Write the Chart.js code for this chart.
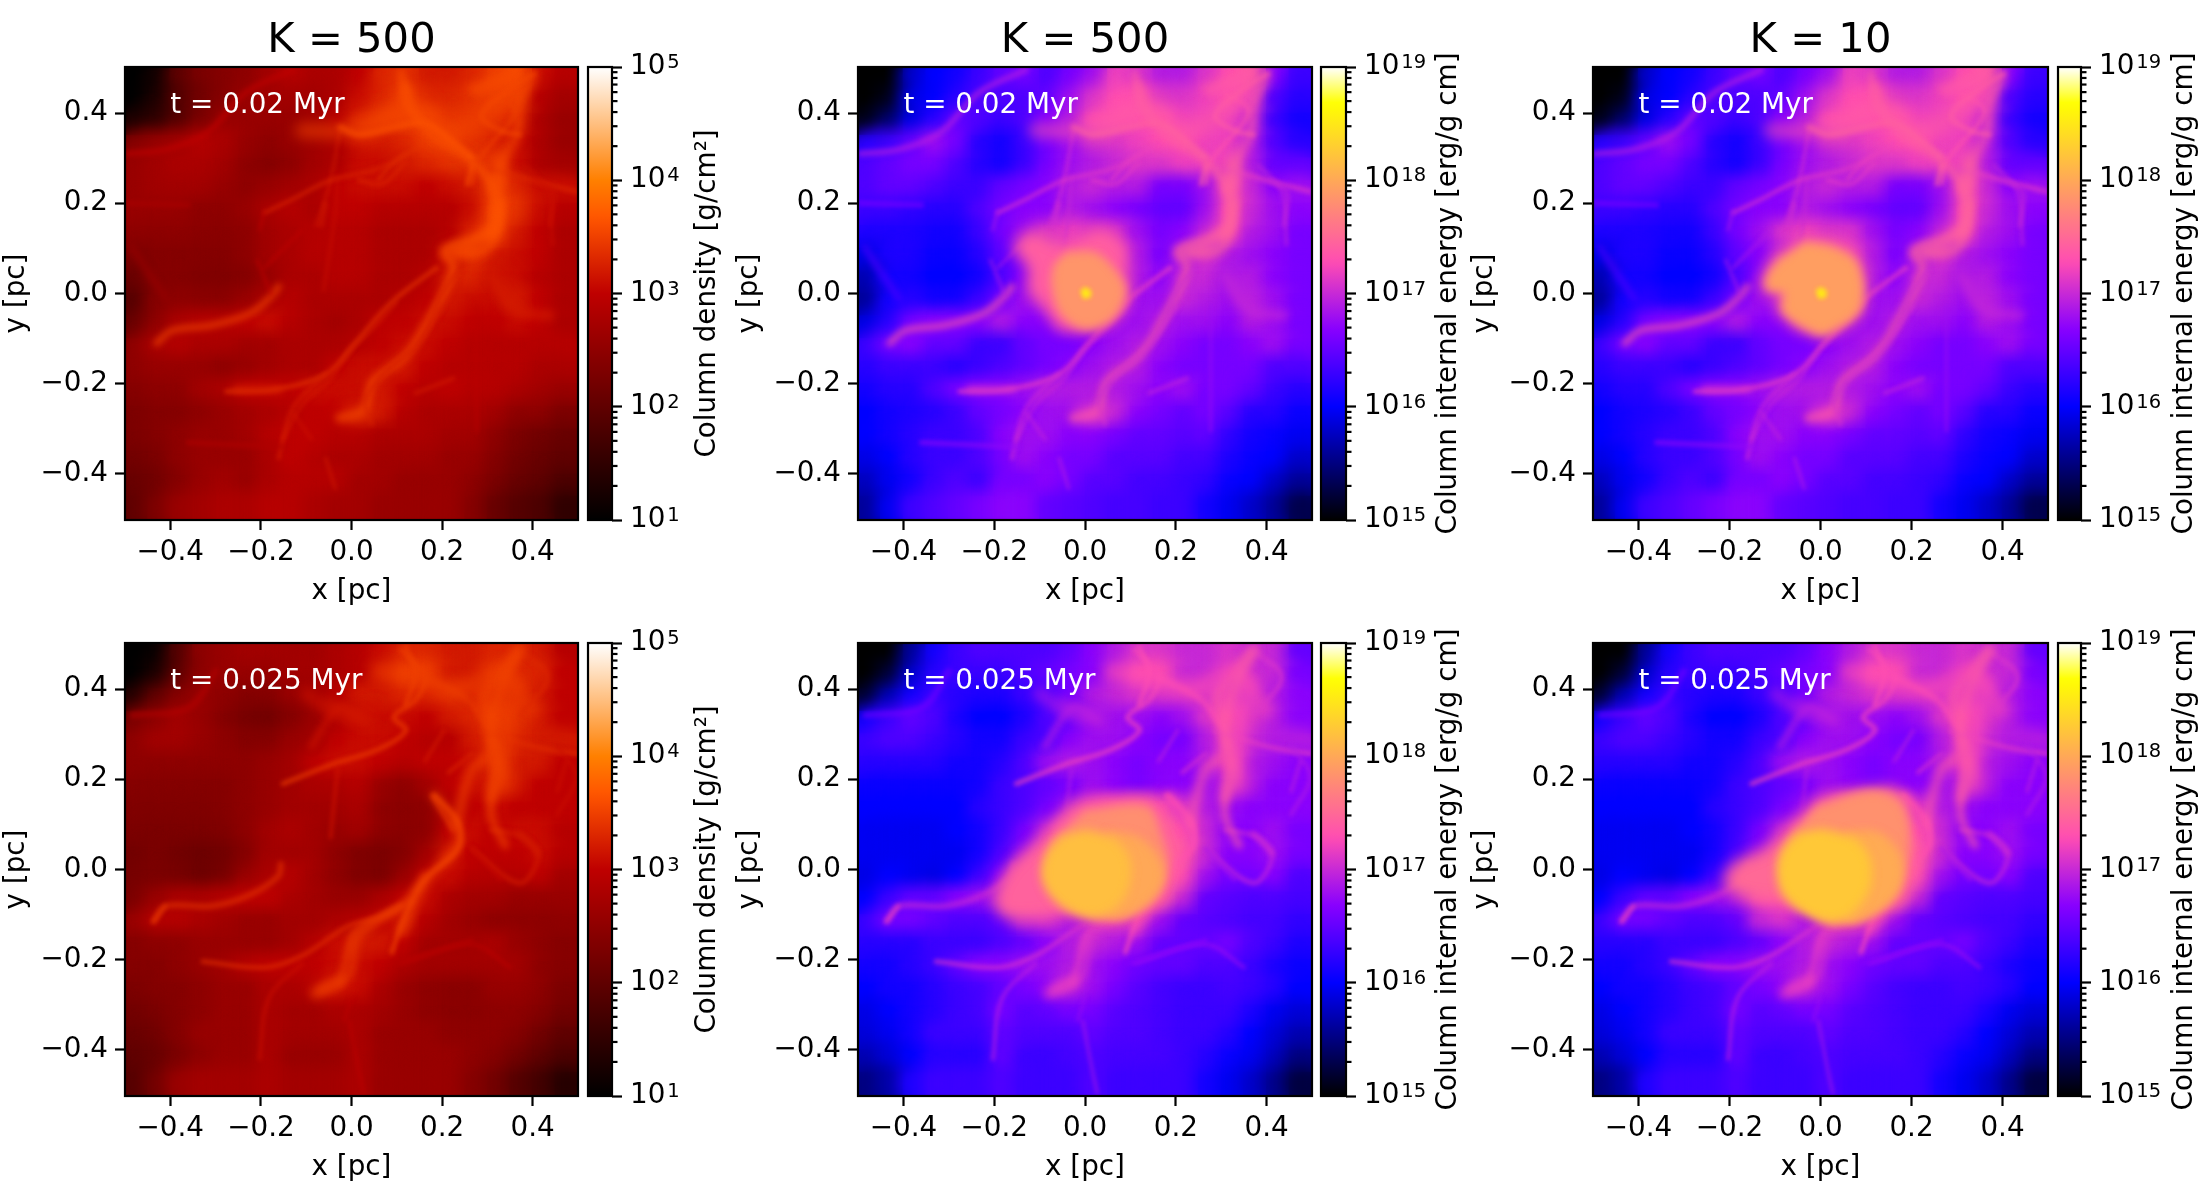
<!DOCTYPE html>
<html><head><meta charset="utf-8">
<script src="https://cdn.jsdelivr.net/npm/chart.js@4"></script>
<style>html,body{margin:0;padding:0;background:#fff;width:2200px;height:1200px;overflow:hidden}canvas{position:absolute;display:block}</style>
</head><body>
<script>
// ---------- axes ----------
const gridX=[-.475,-.425,-.375,-.325,-.275,-.225,-.175,-.125,-.075,-.025,.025,.075,.125,.175,.225,.275,.325,.375,.425,.475];
const gridY=[.475,.425,.375,.325,.275,.225,.175,.125,.075,.025,-.025,-.075,-.125,-.175,-.225,-.275,-.325,-.375,-.425,-.475];
const posTicks=[-.4,-.2,0,.2,.4];
const rhoDecades=[1e1,1e2,1e3,1e4,1e5];
const eDecades=[1e15,1e16,1e17,1e18,1e19];
const minorFactors=[2,3,4,5,6,7,8,9];
const columnTitles=['K = 500','K = 500','K = 10'];
const timeLabels=['t = 0.02 Myr','t = 0.025 Myr'];
const rhoLabel='Column density [g/cm²]';
const eLabel='Column internal energy [erg/g cm]';
// ---------- coarse log10 fields ----------
const rho02=[
[1.0,1.2,2.0,2.3,2.4,2.5,2.7,2.9,2.8,2.8,3.0,3.3,3.4,3.2,3.2,3.3,3.5,3.6,3.1,2.9],
[1.0,1.3,1.9,2.2,2.4,2.6,2.7,2.7,2.7,2.8,3.1,3.3,3.5,3.3,3.3,3.4,3.5,3.5,2.9,2.7],
[1.3,1.5,1.9,2.3,2.6,2.6,2.6,2.6,2.7,2.9,3.3,3.4,3.5,3.5,3.4,3.4,3.4,3.3,2.8,2.6],
[2.4,2.6,2.7,2.9,2.8,2.6,2.5,2.6,2.7,2.8,3.1,3.2,3.3,3.5,3.5,3.4,3.3,3.1,2.8,2.6],
[2.6,2.7,2.8,2.8,2.7,2.5,2.4,2.5,2.7,2.8,3.1,3.1,3.2,3.3,3.4,3.4,3.4,3.1,2.8,2.7],
[2.6,2.7,2.7,2.7,2.6,2.5,2.6,2.7,2.8,3.0,3.1,3.1,3.1,3.0,3.1,3.2,3.5,3.3,3.1,3.1],
[2.6,2.6,2.6,2.5,2.5,2.6,2.8,2.9,2.8,3.0,3.0,2.9,2.9,2.9,2.9,3.1,3.6,3.4,3.1,2.9],
[2.5,2.5,2.5,2.45,2.45,2.5,2.7,2.8,2.9,2.9,2.9,2.8,2.8,2.8,2.9,3.3,3.6,3.2,3.0,2.8],
[2.3,2.4,2.4,2.4,2.4,2.5,2.7,2.8,2.9,2.9,2.9,2.8,2.8,2.8,3.1,3.4,3.2,3.1,3.0,2.8],
[2.1,2.4,2.4,2.35,2.35,2.4,2.6,2.8,2.8,2.9,2.9,2.8,2.8,2.9,3.2,3.3,3.1,3.1,2.9,2.8],
[1.9,2.4,2.5,2.45,2.45,2.6,2.8,2.9,2.8,2.8,2.8,2.8,2.9,3.0,3.2,3.1,3.1,3.2,3.0,2.8],
[2.1,2.5,2.8,2.9,2.9,3.0,3.1,2.9,2.8,2.7,2.8,3.0,3.0,3.1,3.1,3.0,3.0,3.1,3.0,2.8],
[2.5,2.8,2.9,2.8,2.8,2.7,2.7,2.8,2.8,2.8,2.9,3.0,3.1,3.1,3.0,2.9,2.9,2.9,2.9,2.9],
[2.5,2.6,2.6,2.6,2.5,2.6,2.7,2.8,2.8,3.0,3.1,3.1,3.2,3.0,2.9,2.9,2.9,2.9,2.8,2.8],
[2.4,2.5,2.5,2.7,2.8,3.0,3.0,3.0,3.1,3.1,3.1,3.2,3.0,2.9,3.0,2.9,2.9,2.8,2.7,2.6],
[2.3,2.4,2.4,2.5,2.6,2.7,2.8,2.9,3.0,3.0,3.2,3.2,2.9,2.8,2.8,2.8,2.7,2.5,2.5,2.3],
[2.3,2.4,2.5,2.6,2.6,2.7,2.9,3.0,3.0,2.9,2.9,2.8,2.8,2.8,2.7,2.7,2.5,2.3,2.2,2.1],
[2.2,2.3,2.5,2.6,2.6,2.6,2.8,3.0,2.9,2.8,2.8,2.7,2.7,2.7,2.6,2.6,2.4,2.2,2.1,2.0],
[2.1,2.2,2.4,2.6,2.7,2.6,2.8,2.9,2.9,2.9,2.7,2.7,2.6,2.6,2.6,2.5,2.3,2.1,2.0,1.8],
[2.0,2.3,2.6,2.7,2.8,2.8,2.9,2.9,2.8,2.7,2.7,2.6,2.6,2.6,2.6,2.4,2.1,1.9,1.8,1.5]];
const rho025=[
[1.0,1.1,1.9,2.5,2.6,2.7,2.7,2.7,2.7,2.8,2.9,3.1,3.3,3.3,3.2,3.2,3.3,3.3,3.2,2.9],
[1.0,1.3,2.0,2.5,2.6,2.6,2.6,2.7,2.7,2.8,2.9,3.2,3.5,3.5,3.2,3.2,3.4,3.3,3.3,3.0],
[1.4,2.0,2.4,2.6,2.5,2.4,2.4,2.6,2.7,2.9,3.2,3.2,3.3,3.3,3.4,3.3,3.4,3.3,3.2,3.0],
[2.3,2.5,2.7,2.6,2.4,2.25,2.2,2.4,2.6,2.8,3.1,3.1,3.1,3.0,3.2,3.3,3.5,3.4,3.2,3.0],
[2.5,2.7,2.7,2.6,2.5,2.4,2.4,2.6,2.7,3.0,3.1,3.1,3.0,2.9,2.9,3.2,3.4,3.3,3.2,3.2],
[2.5,2.5,2.5,2.5,2.5,2.5,2.6,2.7,3.0,3.1,3.1,3.0,2.9,3.0,3.0,3.1,3.4,3.2,3.2,3.0],
[2.4,2.4,2.4,2.4,2.4,2.5,2.6,2.7,2.8,2.8,2.9,2.6,2.5,2.7,3.0,3.1,3.3,3.2,3.0,3.0],
[2.35,2.35,2.35,2.35,2.4,2.5,2.6,2.7,2.7,2.7,2.8,2.5,2.45,2.5,2.9,3.0,3.1,3.0,3.0,3.0],
[2.3,2.3,2.3,2.3,2.35,2.5,2.7,2.8,2.7,2.6,2.7,2.5,2.45,2.5,3.0,3.1,3.0,3.1,3.1,2.9],
[2.2,2.3,2.2,2.15,2.2,2.4,2.7,2.7,2.7,2.5,2.35,2.3,2.4,2.7,3.2,3.0,3.0,3.0,3.1,2.9],
[2.25,2.3,2.25,2.15,2.25,2.6,2.8,2.9,2.7,2.5,2.35,2.3,2.6,3.0,3.1,2.9,2.9,2.9,3.0,2.7],
[2.3,2.6,2.8,2.8,2.9,3.0,3.0,2.8,2.7,2.6,2.6,2.8,3.0,3.1,2.8,2.7,2.7,2.6,2.6,2.6],
[2.6,2.9,2.9,2.8,2.7,2.6,2.6,2.7,2.7,2.8,2.9,3.0,3.2,2.9,2.7,2.6,2.5,2.5,2.5,2.5],
[2.4,2.5,2.5,2.6,2.6,2.6,2.6,2.7,2.9,3.1,3.2,3.2,3.0,2.7,2.7,2.7,2.8,2.6,2.5,2.4],
[2.4,2.4,2.5,2.6,2.7,2.9,3.0,3.0,3.0,3.1,3.1,3.0,2.8,2.7,2.7,2.7,2.7,2.7,2.5,2.4],
[2.3,2.4,2.4,2.5,2.6,2.6,2.8,2.8,2.9,3.1,3.1,2.8,2.6,2.5,2.45,2.45,2.6,2.6,2.5,2.3],
[2.2,2.3,2.4,2.5,2.6,2.6,2.8,2.7,2.7,2.8,2.8,2.7,2.6,2.5,2.45,2.45,2.5,2.5,2.4,2.2],
[2.1,2.2,2.4,2.6,2.6,2.6,2.8,2.7,2.7,2.7,2.8,2.6,2.6,2.6,2.5,2.5,2.5,2.4,2.2,2.0],
[2.0,2.1,2.3,2.5,2.6,2.6,2.8,2.6,2.6,2.6,2.8,2.6,2.6,2.6,2.6,2.5,2.4,2.2,2.0,1.8],
[1.9,2.2,2.6,2.7,2.7,2.7,2.8,2.7,2.7,2.7,2.8,2.6,2.6,2.6,2.6,2.4,2.2,1.9,1.7,1.4]];
const e02=[
[15.0,15.0,15.8,16.0,16.1,16.3,16.5,16.6,16.4,16.6,16.8,17.2,17.1,16.9,16.9,17.1,17.3,17.4,16.7,16.3],
[15.0,15.1,15.9,16.0,16.2,16.4,16.4,16.4,16.5,16.8,17.1,17.3,17.3,17.1,17.1,17.2,17.3,17.2,16.4,16.2],
[15.1,15.4,15.9,16.2,16.5,16.4,16.3,16.4,16.7,16.9,17.3,17.3,17.3,17.3,17.2,17.2,17.2,17.0,16.3,16.1],
[16.2,16.3,16.5,16.8,16.6,16.2,16.1,16.3,16.6,16.8,17.0,17.1,17.2,17.3,17.3,17.2,17.2,16.9,16.4,16.2],
[16.4,16.5,16.6,16.6,16.4,16.2,16.1,16.3,16.6,16.8,16.9,17.0,17.1,17.1,17.2,17.2,17.2,16.9,16.5,16.5],
[16.4,16.5,16.5,16.4,16.3,16.3,16.5,16.6,16.7,16.9,17.0,16.9,16.9,16.6,16.6,16.8,17.3,17.0,16.7,16.8],
[16.3,16.3,16.25,16.2,16.2,16.4,16.6,16.7,16.7,16.9,16.8,16.7,16.6,16.5,16.5,16.8,17.3,17.0,16.8,16.7],
[16.15,16.15,16.15,16.1,16.1,16.3,16.6,16.8,17.1,17.2,17.1,17.1,16.8,16.6,16.7,17.0,17.3,16.9,16.8,16.6],
[15.9,16.15,16.15,16.05,16.05,16.2,16.5,16.7,17.0,17.2,17.2,17.2,16.9,16.6,16.9,17.1,16.9,16.8,16.7,16.6],
[15.7,16.1,16.1,16.0,16.0,16.1,16.4,16.7,16.9,17.1,17.1,17.0,16.9,16.7,17.0,17.0,16.8,16.9,16.7,16.6],
[15.6,16.1,16.2,16.1,16.1,16.3,16.6,16.8,16.9,17.1,17.1,17.0,16.8,16.8,17.0,16.9,16.8,16.9,16.8,16.6],
[15.9,16.2,16.6,16.7,16.7,16.7,16.9,16.7,16.7,16.9,16.9,16.8,16.8,16.9,16.8,16.8,16.7,16.9,16.8,16.6],
[16.3,16.6,16.7,16.5,16.5,16.3,16.3,16.5,16.6,16.6,16.7,16.8,16.9,16.8,16.7,16.6,16.6,16.7,16.8,16.6],
[16.2,16.3,16.3,16.3,16.2,16.3,16.4,16.5,16.6,16.7,16.8,16.9,16.9,16.7,16.6,16.6,16.6,16.6,16.4,16.4],
[16.1,16.2,16.2,16.4,16.6,16.7,16.7,16.8,16.9,16.9,16.9,16.9,16.8,16.7,16.8,16.6,16.6,16.5,16.3,16.2],
[16.0,16.1,16.15,16.2,16.3,16.5,16.6,16.7,16.8,16.8,17.0,17.0,16.7,16.6,16.5,16.6,16.45,16.2,16.2,16.05],
[16.0,16.1,16.2,16.3,16.3,16.4,16.7,16.8,16.8,16.7,16.7,16.6,16.5,16.5,16.45,16.5,16.25,16.1,16.05,15.95],
[15.9,16.0,16.2,16.3,16.3,16.4,16.6,16.8,16.7,16.6,16.6,16.45,16.45,16.45,16.35,16.35,16.15,16.05,16.0,15.8],
[15.75,15.95,16.1,16.3,16.4,16.3,16.6,16.6,16.7,16.6,16.45,16.45,16.35,16.35,16.3,16.25,16.05,16.0,15.8,15.6],
[15.6,15.95,16.3,16.4,16.5,16.6,16.7,16.7,16.5,16.45,16.4,16.35,16.35,16.3,16.3,16.1,15.95,15.8,15.6,15.3]];
const e025=[
[15.0,15.0,15.6,16.1,16.3,16.4,16.4,16.4,16.4,16.5,16.7,16.9,17.1,17.1,17.0,17.0,17.1,17.0,17.0,16.5],
[15.0,15.2,15.8,16.2,16.3,16.3,16.3,16.4,16.5,16.6,16.7,17.0,17.3,17.3,17.0,17.0,17.1,17.0,17.0,16.6],
[15.2,15.7,16.1,16.3,16.2,16.15,16.15,16.3,16.4,16.6,16.9,17.0,17.1,17.1,17.1,17.1,17.2,17.0,16.9,16.7],
[16.1,16.3,16.5,16.4,16.15,16.0,16.0,16.15,16.4,16.5,16.8,16.8,16.8,16.7,16.8,17.1,17.3,17.1,16.9,16.7],
[16.3,16.4,16.4,16.3,16.2,16.1,16.1,16.3,16.4,16.7,16.8,16.8,16.7,16.6,16.6,16.9,17.2,17.0,16.9,16.9],
[16.2,16.2,16.2,16.2,16.1,16.1,16.2,16.4,16.8,16.9,16.8,16.7,16.6,16.7,16.7,16.9,17.2,16.9,16.8,16.7],
[16.05,16.05,16.05,16.05,16.05,16.1,16.3,16.4,16.5,16.6,16.8,16.7,16.6,16.7,16.7,16.8,17.0,16.9,16.7,16.7],
[16.0,16.0,16.0,16.0,16.0,16.2,16.3,16.4,16.6,16.8,17.2,17.3,17.3,17.3,17.1,16.9,16.8,16.7,16.7,16.7],
[15.95,15.95,15.95,15.95,16.0,16.1,16.3,16.6,17.0,17.3,17.4,17.5,17.5,17.5,17.3,17.0,16.7,16.7,16.8,16.6],
[15.95,15.95,15.95,15.95,15.95,16.1,16.4,16.8,17.2,17.4,17.5,17.5,17.5,17.5,17.4,17.0,16.7,16.7,16.8,16.6],
[15.9,16.0,15.95,15.9,16.0,16.3,16.7,17.2,17.3,17.4,17.5,17.5,17.5,17.5,17.3,16.8,16.6,16.6,16.7,16.4],
[16.0,16.3,16.5,16.5,16.7,16.8,16.9,17.3,17.3,17.3,17.4,17.5,17.5,17.4,17.0,16.5,16.45,16.4,16.4,16.35],
[16.3,16.6,16.6,16.5,16.4,16.4,16.5,17.0,17.1,16.9,17.0,17.1,17.1,16.8,16.5,16.45,16.4,16.35,16.35,16.25],
[16.2,16.2,16.2,16.3,16.3,16.3,16.4,16.5,16.7,16.9,17.0,16.9,16.8,16.5,16.5,16.5,16.6,16.4,16.3,16.15],
[16.1,16.1,16.2,16.3,16.5,16.7,16.7,16.8,16.8,16.9,16.8,16.7,16.55,16.5,16.5,16.4,16.4,16.3,16.15,16.05],
[16.0,16.1,16.1,16.2,16.3,16.35,16.5,16.6,16.7,16.9,16.8,16.6,16.45,16.35,16.3,16.3,16.35,16.3,16.2,16.0],
[15.9,16.0,16.1,16.2,16.3,16.35,16.6,16.45,16.5,16.6,16.6,16.45,16.4,16.35,16.3,16.3,16.3,16.15,15.95,15.85],
[15.85,15.95,16.1,16.3,16.3,16.3,16.5,16.4,16.4,16.4,16.5,16.4,16.4,16.35,16.3,16.3,16.2,16.0,15.85,15.7],
[15.7,15.85,16.0,16.2,16.2,16.2,16.5,16.3,16.3,16.35,16.4,16.35,16.35,16.35,16.3,16.2,16.05,15.95,15.75,15.5],
[15.5,15.65,16.15,16.3,16.3,16.3,16.4,16.3,16.3,16.3,16.4,16.3,16.3,16.3,16.3,16.1,15.95,15.8,15.55,15.25]];
// ---------- filaments: polylines in pc, with per-filament log10 level ----------
const fil02=[
[[-.43,-.11],[-.396,-.082],[-.307,-.07],[-.224,-.044],[-.177,-.006],[-.161,.015]],
[[-.026,-.276],[.027,-.26],[.047,-.196],[.12,-.137],[.183,-.036],[.225,.057],[.204,.095],[.277,.124],[.319,.15],[.313,.234],[.266,.293],[.193,.344],[.141,.394],[.12,.462]],
[[.319,.15],[.329,.285],[.365,.352],[.37,.42],[.402,.487]],
[[.308,.276],[.4,.251],[.496,.226]],
[[-.276,-.217],[-.172,-.213],[-.057,-.179],[.006,-.112],[.089,-.019],[.188,.057]],
[[-.161,-.365],[-.13,-.255],[-.057,-.179]],
[[-.078,.15],[-.046,.25],[-.026,.361]],
[[-.062,.006],[-.036,.175],[-.03,.26]],
[[-.192,.179],[-.13,.209],[-.046,.251],[.058,.276],[.12,.31]],
[[-.495,.31],[-.411,.319],[-.318,.357],[-.234,.445],[-.13,.496]],
[[.438,.15],[.444,.226],[.4,.251]],
[[.308,.04],[.36,-.036],[.438,-.049]],
[[.141,-.221],[.225,-.188]],
[[-.109,.361],[-.015,.361],[.141,.394],[.214,.335]],
[[.266,.454],[.371,.487]],
[[-.057,-.365],[-.036,-.432]],
[[.02,.35],[.14,.42],[.2,.36],[.3,.4],[.35,.47]],
[[-.151,-.323],[-.109,-.247],[-.046,-.188],[-.005,-.129],[.047,-.078],[.1,-.019]],
[[.267,.243],[.277,.293],[.36,.403],[.308,.445]],
[[.058,.251],[.089,.285],[.162,.335]],
[[.381,.285],[.433,.226],[.444,.108]],
[[.277,-.027],[.277,-.196],[.277,-.306]],
[[-.36,-.33],[-.15,-.34]],
[[-.495,.2],[-.36,.196]],
[[-.484,.1],[-.411,-.01]],
[[-.203,.141],[-.192,.183]],
[[-.208,.074],[-.177,-.002]],
[[-.109,.141],[-.192,.057]],
[[.045,-.29],[.03,-.24],[.07,-.18],[.15,-.11],[.2,.0],[.25,.07]],
[[.23,.09],[.3,.1],[.33,.2]],
[[-.026,.369],[.016,.352],[.1,.369],[.162,.378],[.225,.335],[.266,.302]],
[[.11,.487],[.12,.42],[.152,.386]],
[[.402,.487],[.35,.454],[.287,.394],[.329,.361],[.37,.352]],
[[.277,.445],[.36,.487]],
[[.266,.285],[.256,.243]],
[[.016,.251],[.068,.243],[.12,.293]],
[[-.057,.2],[-.067,.15]],
[[.308,.141],[.266,.108],[.214,.09]],
[[.319,.226],[.329,.293]],
[[.319,.04],[.37,-.027]],
[[.204,-.027],[.141,-.112],[.058,-.188]],
[[-.13,-.264],[-.088,-.323]],
[[-.015,-.272],[.037,-.272]],
[[-.255,-.213],[-.16,-.213]]];
const fil02Width=[7,8,9,5,5,4,3,3,4,6,4,9,4,14,10,3,18,3,4,3,3,3,5,5,7,3,3,3,4,10,6,7,5,8,5,4,4,12,14,16,3,3,14,8];
const fil02Rho=[3.55,3.7,3.6,3.3,3.4,3.25,3.2,3.1,3.3,3.0,3.15,3.25,3.2,3.55,3.6,3.2,3.55,3.25,3.5,3.4,3.1,2.95,2.85,2.8,2.6,3.0,3.0,3.0,3.2,3.65,3.65,3.6,3.55,3.55,3.6,3.3,3.2,3.6,3.6,3.2,3.25,3.15,3.4,3.3];
const fil02E=[17.4,17.45,17.4,17.15,17.2,17.05,17.1,17.0,17.15,16.95,17.0,17.0,17.0,17.35,17.4,16.95,17.4,17.05,17.35,17.2,17.0,16.8,16.75,16.65,16.4,16.9,16.9,16.9,17.0,17.5,17.45,17.4,17.4,17.35,17.45,17.15,17.1,17.45,17.5,17.0,17.1,17.0,17.3,17.15];
const fil025=[
[[-.437,-.115],[-.411,-.081],[-.307,-.081],[-.224,-.056],[-.161,-.014],[-.156,.012]],
[[.11,-.14],[.162,-.03],[.235,.054],[.23,.096],[.183,.164]],
[[.23,.096],[.266,.223],[.308,.257],[.308,.308],[.29,.38],[.319,.426],[.371,.486]],
[[-.151,.19],[-.046,.232],[.058,.266],[.12,.308],[.094,.338],[.141,.376],[.162,.426],[.11,.486]],
[[.287,.308],[.412,.27],[.496,.257]],
[[.162,.426],[.256,.376],[.308,.308]],
[[-.328,-.204],[-.192,-.217],[-.109,-.191],[-.005,-.124],[.058,-.107],[.11,-.08]],
[[-.067,-.267],[-.005,-.234],[.016,-.149],[.11,-.081],[.162,-.014]],
[[-.203,-.42],[-.182,-.284],[-.109,-.208]],
[[-.046,.071],[-.036,.173],[-.03,.223]],
[[-.005,-.335],[.016,-.445],[.027,-.496]],
[[.308,.088],[.381,.071],[.412,.029],[.371,-.03],[.266,.046]],
[[.454,.274],[.496,.206],[.454,.122]],
[[.11,-.208],[.266,-.166],[.35,-.217]],
[[-.484,.342],[-.359,.359],[-.3,.44]],
[[.06,.44],[.16,.42],[.24,.4],[.33,.44],[.4,.35]],
[[.319,.24],[.308,.122],[.339,.054]],
[[.178,.164],[.225,.088]],
[[.371,.486],[.433,.426],[.371,.342]],
[[-.088,.274],[-.026,.359],[.027,.333]],
[[.204,.308],[.162,.24]],
[[-.08,-.275],[-.03,-.25]],
[[.266,.046],[.329,-.022]],
[[-.016,-.335],[0,-.284]],
[[.1,-.208],[.266,-.157]],
[[.36,.42],[.34,.3],[.34,.18]],
[[-.1,.39],[-.02,.34],[.05,.36]],
[[.12,.494],[.141,.435],[.12,.367]],
[[.371,.486],[.329,.401],[.308,.316],[.329,.215],[.308,.156]],
[[.183,.164],[.235,.105],[.235,.046],[.162,-.022],[.12,-.098],[.089,-.183]],
[[.131,-.073],[.058,-.107],[.006,-.14],[-.015,-.208],[-.026,-.25]],
[[-.067,-.267],[-.026,-.25]],
[[.214,.215],[.266,.257]],
[[.371,.08],[.412,.037]],
[[-.046,.367],[.037,.325]],
[[.454,.173],[.475,.24]],
[[-.437,-.115],[-.411,-.081]]];
const fil025Width=[6,9,10,5,5,6,5,8,4,4,3,5,4,4,6,14,8,4,5,7,3,10,4,3,5,14,12,5,10,5,7,16,4,6,12,3,4];
const fil025Rho=[3.4,3.6,3.55,3.5,3.35,3.45,3.35,3.5,3.1,3.15,3.0,3.2,3.1,2.95,2.9,3.5,3.55,3.4,3.3,3.15,3.25,3.55,3.05,3.0,2.9,3.5,3.15,3.5,3.55,3.55,3.5,3.35,3.3,3.2,3.2,3.15,3.45];
const fil025E=[17.05,17.3,17.4,17.25,17.15,17.3,17.1,17.1,16.95,16.9,16.9,17.0,16.9,16.8,16.6,17.3,17.4,17.2,17.1,16.95,17.0,17.2,16.85,16.8,16.7,17.3,16.9,17.3,17.4,17.3,17.2,17.15,17.1,17.05,16.95,17.0,17.25];
// ---------- heated bubbles: closed outlines in pc with log10 level ----------
const bubble500a=[[[-.11,.141],[-.042,.108],[.031,.141],[.083,.108],[.093,.041],[.098,-.01],[.052,-.07],[-.053,-.078],[-.094,-.028],[-.125,.006],[-.125,.057],[-.157,.099],[-.136,.133]],
[[-.042,.091],[.02,.091],[.062,.057],[.088,.006],[.062,-.053],[0,-.078],[-.053,-.044],[-.073,.023],[-.068,.065]],
[[-.01,.005],[0,.012],[.012,.005],[.01,-.008],[-.005,-.01]]];
const bubble500aLevels=[17.42,17.85,18.5];
const bubble10a=[[[-.038,.122],[.034,.112],[.088,.07],[.093,-.036],[.027,-.09],[-.007,-.096],[-.092,-.044],[-.092,-.002],[-.128,.006],[-.128,.04],[-.103,.078],[-.076,.095]],
[[-.034,.112],[.03,.1],[.08,.064],[.086,-.032],[.023,-.082],[-.007,-.087],[-.08,-.04],[-.08,.002],[-.115,.01],[-.115,.036],[-.092,.07],[-.068,.088]],
[[-.01,.005],[0,.012],[.012,.005],[.01,-.008],[-.005,-.01]]];
const bubble10aLevels=[17.5,17.92,18.5];
const bubble500b=[[[-.032,.147],[.072,.156],[.145,.156],[.182,.088],[.202,.02],[.166,-.073],[.072,-.115],[-.032,-.098],[-.167,-.107],[-.198,-.073],[-.167,.003],[-.094,.071]],
[[0,.13],[.135,.139],[.166,.08],[.182,.003],[.145,-.073],[.052,-.111],[-.032,-.073],[-.084,-.013],[-.073,.063]],
[[.05,.085],[.12,.07],[.165,.02],[.17,-.03],[.13,-.08],[.06,-.105],[.03,-.06],[.05,.02]],
[[0,.088],[.06,.07],[.095,.03],[.1,-.02],[.08,-.07],[.03,-.105],[-.03,-.095],[-.075,-.06],[-.095,-.015],[-.085,.035],[-.05,.075]]];
const bubble500bLevels=[17.45,17.8,18.0,18.18];
const bubble10b=[[[-.017,.147],[.064,.173],[.176,.173],[.196,.071],[.206,.003],[.166,-.081],[.034,-.123],[-.038,-.081],[-.18,-.056],[-.21,-.03],[-.19,.012],[-.119,.046],[-.058,.1]],
[[-.007,.139],[.115,.173],[.181,.139],[.191,.02],[.145,-.073],[.034,-.119],[-.048,-.064],[-.088,.003],[-.068,.071]],
[[.06,.085],[.13,.08],[.175,.03],[.175,-.04],[.13,-.09],[.06,-.115],[.04,-.06],[.05,.02]],
[[0,.09],[.07,.07],[.105,.03],[.11,-.03],[.085,-.08],[.035,-.115],[-.03,-.1],[-.08,-.06],[-.095,-.01],[-.085,.04],[-.05,.08]]];
const bubble10bLevels=[17.5,17.82,18.02,18.25];

// ---------- colour maps ----------
const clamp=v=>Math.max(0,Math.min(1,v));
const gistHeat=x=>[1.5*x,2*x-1,4*x-3];
const gnuplot2=x=>[x/.32-.78125,2*x-.84,x<.25?4*x:(x<.92?-2*x+1.84:x/.08-11.5)];
const css=(rgb,a=1)=>`rgba(${rgb.map(c=>Math.round(clamp(c)*255)).join(',')},${a})`;
const rhoColor=(v,a)=>css(gistHeat(clamp((v-1)/4)),a);
const eColor=(v,a)=>css(gnuplot2(clamp((v-15)/4)),a);

Chart.defaults.font.family='"DejaVu Sans"';
Chart.defaults.font.size=27.8;
Chart.defaults.color='#000';
Chart.defaults.animation=false;
Chart.defaults.devicePixelRatio=1;

const softFilter={id:'softFilter',
  beforeDatasetsDraw(chart){const o=chart.getSortedVisibleDatasetMetas();const m=o[o.length-1];chart.ctx.filter=m?`blur(${chart.data.datasets[m.index].soft||0}px)`:'none';},
  afterDatasetDraw(chart,args){const o=chart.getSortedVisibleDatasetMetas();const i=o.indexOf(args.meta);const m=o[i-1];chart.ctx.filter=m?`blur(${chart.data.datasets[m.index].soft||0}px)`:'none';},
  afterDatasetsDraw(chart){chart.ctx.filter='none';}};
const frame={id:'frame',afterDraw(chart){const {left,top,width,height}=chart.chartArea;const c=chart.ctx;c.save();c.lineWidth=2.2;c.strokeStyle='#000';c.strokeRect(left,top,width,height);c.restore();}};
const zeroPad=s=>{s.paddingLeft=s.paddingRight=s.paddingTop=s.paddingBottom=0;};
const fmt=v=>(v<0?'\u2212':'')+Math.abs(v).toFixed(1);
function panel(cfg){
  const cv=document.createElement('canvas');document.body.appendChild(cv);
  const L=125,T=67,B=88,R=5;const W=cfg.right-cfg.left,H=cfg.bottom-cfg.top;
  cv.width=L+W+R;cv.height=T+H+B;cv.style.left=(cfg.left-L)+'px';cv.style.top=(cfg.top-T)+'px';
  const color=cfg.color,ds=[];
  const cells=[],cols=[];
  cfg.grid.forEach((row,j)=>row.forEach((v,i)=>{cells.push({x:gridX[i],y:gridY[j]});cols.push(color(v));}));
  const cellPx=W/gridX.length;
  ds.push({data:cells,pointStyle:'rect',pointBackgroundColor:cols,pointBorderWidth:0,pointRadius:cellPx*0.75,clip:0,soft:0});
  ds.push({data:cells,pointStyle:'rect',pointBackgroundColor:cols,pointBorderWidth:0,pointRadius:cellPx*1.0,clip:0,soft:cellPx*0.32});
  cfg.fil.forEach((f,k)=>ds.push({data:f.map(p=>({x:p[0],y:p[1]})),showLine:true,tension:.35,pointRadius:0,borderColor:color(cfg.filLevels[k],.6),borderWidth:cfg.filWidth[k],borderCapStyle:'round',borderJoinStyle:'round',fill:false,clip:0,soft:Math.max(2,cfg.filWidth[k]*.45)}));
  (cfg.bubble||[]).forEach((b,k)=>ds.push({data:b.map(p=>({x:p[0],y:p[1]})),showLine:true,tension:.35,pointRadius:0,borderColor:color(cfg.bubbleLevels[k]),backgroundColor:color(cfg.bubbleLevels[k]),borderWidth:1,fill:'shape',clip:0,soft:k===0?7:(k===cfg.bubble.length-1?cfg.coreSoft:4)}));
  ds.reverse();
  const note={id:'note',afterDatasetsDraw(chart){const c=chart.ctx,x=chart.scales.x,y=chart.scales.y;c.save();c.fillStyle='#fff';c.font='27.8px "DejaVu Sans"';c.textBaseline='alphabetic';c.fillText(cfg.note,x.getPixelForValue(-.4),y.getPixelForValue(.4));c.restore();}};
  new Chart(cv,{type:'scatter',data:{datasets:ds},plugins:[softFilter,note,frame],options:{
    responsive:false,events:[],layout:{autoPadding:false,padding:{left:0,top:0,right:R,bottom:0}},
    plugins:{legend:{display:false},tooltip:{enabled:false},title:{display:false}},
    scales:{
      x:{type:'linear',min:-.5,max:.5,position:'bottom',afterBuildTicks:s=>{s.ticks=posTicks.map(v=>({value:v}));},afterFit:s=>{s.height=B;zeroPad(s);},
         grid:{drawOnChartArea:false,drawTicks:true,tickLength:10,tickWidth:2.2,tickColor:'#000'},border:{display:false},
         ticks:{callback:fmt,maxRotation:0,autoSkip:false,padding:6},title:{display:true,text:'x [pc]',padding:{top:0,bottom:0}}},
      y:{type:'linear',min:-.502,max:.502,position:'left',afterBuildTicks:s=>{s.ticks=posTicks.map(v=>({value:v}));},afterFit:s=>{s.width=L;zeroPad(s);},
         grid:{drawOnChartArea:false,drawTicks:true,tickLength:10,tickWidth:2.2,tickColor:'#000'},border:{display:false},
         ticks:{callback:fmt,autoSkip:false,padding:7},title:{display:true,text:'y [pc]',padding:{top:0,bottom:0}}},
      top:{type:'linear',axis:'x',position:'top',min:0,max:1,afterFit:s=>{s.height=T;zeroPad(s);},grid:{display:false},border:{display:false},ticks:{display:false},
         title:{display:!!cfg.title,text:cfg.title||'',font:{size:41.7},padding:{top:16,bottom:0}}}
    }}});
}
function colorbar(cfg){
  const cv=document.createElement('canvas');document.body.appendChild(cv);
  const PL=3,PV=30,AX=125;const W=cfg.right-cfg.left,H=cfg.bottom-cfg.top;
  cv.width=PL+W+AX;cv.height=H+2*PV;cv.style.left=(cfg.left-PL)+'px';cv.style.top=(cfg.top-PV)+'px';
  const lo=cfg.decades[0],hi=cfg.decades[cfg.decades.length-1];
  const minor=[];cfg.decades.slice(0,-1).forEach(d=>minorFactors.forEach(f=>minor.push(d*f)));
  const extras={id:'extras',afterDraw(chart){const c=chart.ctx,y=chart.scales.y,a=chart.chartArea;c.save();c.strokeStyle='#000';c.lineWidth=2.2;
      minor.forEach(v=>{const p=y.getPixelForValue(v);c.beginPath();c.moveTo(a.right,p);c.lineTo(a.right+5.5,p);c.stroke();});
      c.fillStyle='#000';c.font='27.8px "DejaVu Sans"';const base=c.measureText('10').width;
      c.font='19.5px "DejaVu Sans"';c.textBaseline='alphabetic';
      cfg.decades.forEach(v=>{c.fillText(String(Math.round(Math.log10(v))),a.right+18+base+2,y.getPixelForValue(v)+1);});
      c.translate(a.right+cfg.labelOffset,(a.top+a.bottom)/2);c.rotate(-Math.PI/2);c.font='27.8px "DejaVu Sans"';c.textAlign='center';c.textBaseline='middle';c.fillText(cfg.label,0,0);c.restore();}};
  const grad=ctx=>{const ca=ctx.chart.chartArea;if(!ca)return '#000';const g=ctx.chart.ctx.createLinearGradient(0,ca.bottom,0,ca.top);
      for(let i=0;i<=64;i++){g.addColorStop(i/64,cfg.cmap(i/64));}return g;};
  new Chart(cv,{type:'bar',data:{labels:[''],datasets:[{data:[[lo,hi]],backgroundColor:grad,borderWidth:0,barPercentage:1,categoryPercentage:1}]},plugins:[extras,frame],options:{
    responsive:false,events:[],layout:{autoPadding:false,padding:{left:PL,top:PV,right:0,bottom:PV}},
    plugins:{legend:{display:false},tooltip:{enabled:false}},
    scales:{x:{display:false},
      y:{type:'logarithmic',min:lo,max:hi,position:'right',afterBuildTicks:s=>{s.ticks=cfg.decades.map(v=>({value:v}));},afterFit:s=>{s.width=AX;zeroPad(s);},
         grid:{drawOnChartArea:false,drawTicks:true,tickLength:10,tickWidth:2.2,tickColor:'#000'},border:{display:false},
         ticks:{callback:()=>'10',autoSkip:false,padding:8}}}}});
}
const columns=[{left:125,right:578,cbL:588,cbR:612,labelOffset:96},{left:858,right:1312,cbL:1321,cbR:1346,labelOffset:103},{left:1593,right:2048,cbL:2058,cbR:2081,labelOffset:104}];
const rows=[{top:67,bottom:520,coreSoft:2},{top:643,bottom:1096,coreSoft:5}];
const layout=[
 [{grid:rho02,fil:fil02,filLevels:fil02Rho,filWidth:fil02Width,color:rhoColor,cmap:x=>css(gistHeat(x)),decades:rhoDecades,label:rhoLabel},
  {grid:e02,fil:fil02,filLevels:fil02E,filWidth:fil02Width,color:eColor,cmap:x=>css(gnuplot2(x)),decades:eDecades,label:eLabel,bubble:bubble500a,bubbleLevels:bubble500aLevels},
  {grid:e02,fil:fil02,filLevels:fil02E,filWidth:fil02Width,color:eColor,cmap:x=>css(gnuplot2(x)),decades:eDecades,label:eLabel,bubble:bubble10a,bubbleLevels:bubble10aLevels}],
 [{grid:rho025,fil:fil025,filLevels:fil025Rho,filWidth:fil025Width,color:rhoColor,cmap:x=>css(gistHeat(x)),decades:rhoDecades,label:rhoLabel},
  {grid:e025,fil:fil025,filLevels:fil025E,filWidth:fil025Width,color:eColor,cmap:x=>css(gnuplot2(x)),decades:eDecades,label:eLabel,bubble:bubble500b,bubbleLevels:bubble500bLevels},
  {grid:e025,fil:fil025,filLevels:fil025E,filWidth:fil025Width,color:eColor,cmap:x=>css(gnuplot2(x)),decades:eDecades,label:eLabel,bubble:bubble10b,bubbleLevels:bubble10bLevels}]];
layout.forEach((r,ri)=>r.forEach((p,ci)=>{
  const col=columns[ci],row=rows[ri];
  panel({...p,coreSoft:row.coreSoft,left:col.left,right:col.right,top:row.top,bottom:row.bottom,note:timeLabels[ri],title:ri===0?columnTitles[ci]:''});
  colorbar({left:col.cbL,right:col.cbR,top:row.top,bottom:row.bottom,decades:p.decades,cmap:p.cmap,label:p.label,labelOffset:col.labelOffset});
}));
</script>
</body></html>
